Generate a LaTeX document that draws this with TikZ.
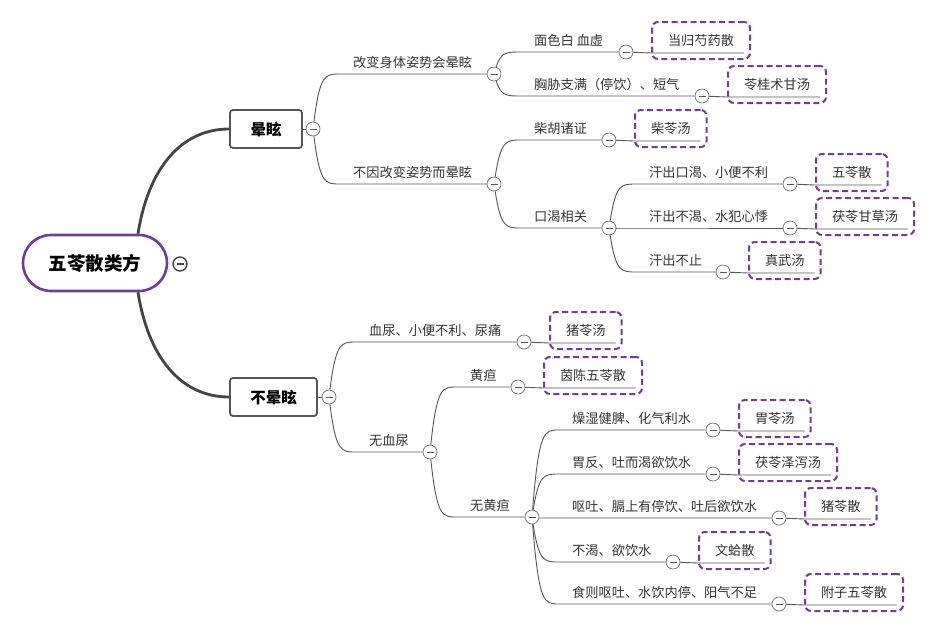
\documentclass[tikz,border=0pt]{standalone}
\usepackage{fontspec}
\setmainfont{Noto Sans CJK SC}
\usetikzlibrary{calc}
\definecolor{pur}{RGB}{112,60,150}
\definecolor{txt}{RGB}{51,51,51}
\definecolor{ln}{RGB}{85,85,85}
\definecolor{trk}{RGB}{68,68,68}
\tikzset{
 lbl/.style={inner sep=0pt, anchor=base west, font=\fontsize{13.2}{15}\selectfont, text=txt},
 tog/.style={circle, draw=ln!85, fill=white, minimum size=14pt, inner sep=0pt, line width=0.7pt,
   path picture={\draw[ln, line width=0.7pt] ([xshift=-3.5pt]path picture bounding box.center) -- ([xshift=3.5pt]path picture bounding box.center);}},
 maintog/.style={circle, draw=trk, fill=white, minimum size=14pt, inner sep=0pt, line width=1.4pt,
   path picture={\draw[trk, line width=1.4pt] ([xshift=-3.5pt]path picture bounding box.center) -- ([xshift=3.5pt]path picture bounding box.center);}},
 branch/.style={draw=ln, line width=0.9pt},
 leaf/.style={draw=pur, line width=2pt, dash pattern=on 6pt off 3.5pt, rounded corners=6pt, fill=white,
   minimum height=37pt, inner xsep=16pt, inner ysep=0pt, anchor=west, font=\fontsize{13.2}{15}\selectfont, text=txt},
 topic/.style={draw=ln, line width=1.8pt, rounded corners=3pt, fill=white, font=\bfseries\fontsize{15.5}{18}\selectfont,
   minimum height=38pt, inner xsep=0pt, text=black},
 mainnode/.style={draw=pur, line width=2.6pt, rounded corners=28pt, fill=white, minimum width=144pt, minimum height=56pt,
   font=\bfseries\fontsize{18.5}{22}\selectfont, text=black},
 trunk/.style={draw=trk, line width=2.8pt},
}
% #1 parent node, #2 id, #3 parent x, #4 y, #5 circle x, #6 label
\newcommand{\br}[6]{%
  \coordinate (#2s) at (#3+27,#4);
  \node[lbl] (#2t) at (#3+40,#4-7) {#6};
  \node[tog] (#2c) at (#5,#4) {};
  \draw[branch] (#1) .. controls (#3+7,#4) and (#3+12,#4) .. (#2s) -- (#2c);
}
% #1 branch id, #2 leaf id, #3 text
\newcommand{\lf}[3]{%
  \node[leaf] (#2) at ($(#1c)+(25,-11.5)$) {#3};
  \draw[branch] (#1c) -- ([yshift=7pt]#2.south west) -- ([xshift=-7pt,yshift=7pt]#2.south east);
}
\begin{document}
\begin{tikzpicture}[x=1pt,y=-1pt]
\useasboundingbox (0,0) rectangle (935,633);
\fill[white] (0,0) rectangle (935,633);
% main
\node[mainnode] (M) at (95,263) {五苓散类方};
\node[maintog] (Mc) at (180,264) {};
\node[topic, minimum width=72pt] (A) at (266,129) {晕眩};
\node[topic, minimum width=87pt] (B) at (273.5,397) {不晕眩};
\draw[trunk] ([xshift=43pt]M.north) .. controls (148,170) and (180,129) .. (A.west);
\draw[trunk] ([xshift=43pt]M.south) .. controls (148,356) and (180,397) .. (B.west);
\node[tog] (Ac) at (313,129) {};
\node[tog] (Bc) at (329,397) {};
\draw[branch] (A) -- (Ac);
\draw[branch] (B) -- (Bc);
% upper tree
\br{Ac}{b1}{313}{74}{494}{改变身体姿势会晕眩}
\br{b1c}{b11}{494}{52}{626}{面色白 血虚}
\lf{b11}{l11}{当归芍药散}
\br{b1c}{b12}{494}{96}{702}{胸胁支满（停饮）、短气}
\lf{b12}{l12}{苓桂术甘汤}
\br{Ac}{b2}{313}{184}{494}{不因改变姿势而晕眩}
\br{b2c}{b21}{494}{140}{609}{柴胡诸证}
\lf{b21}{l21}{柴苓汤}
\br{b2c}{b22}{494}{228}{609}{口渴相关}
\br{b22c}{b221}{609}{184}{790}{汗出口渴、小便不利}
\lf{b221}{l221}{五苓散}
\br{b22c}{b222}{609}{228}{790}{汗出不渴、水犯心悸}
\lf{b222}{l222}{茯苓甘草汤}
\br{b22c}{b223}{609}{272}{723}{汗出不止}
\lf{b223}{l223}{真武汤}
% lower tree
\br{Bc}{c1}{329}{342}{524}{血尿、小便不利、尿痛}
\lf{c1}{m1}{猪苓汤}
\br{Bc}{c2}{329}{452}{430}{无血尿}
\br{c2c}{c21}{430}{387}{518}{黄疸}
\lf{c21}{m21}{茵陈五苓散}
\br{c2c}{c22}{430}{517}{532}{无黄疸}
\br{c22c}{c221}{532}{430}{713}{燥湿健脾、化气利水}
\lf{c221}{m221}{胃苓汤}
\br{c22c}{c222}{532}{474}{713}{胃反、吐而渴欲饮水}
\lf{c222}{m222}{茯苓泽泻汤}
\br{c22c}{c223}{532}{518}{779}{呕吐、膈上有停饮、吐后欲饮水}
\lf{c223}{m223}{猪苓散}
\br{c22c}{c224}{532}{562}{673}{不渴、欲饮水}
\lf{c224}{m224}{文蛤散}
\br{c22c}{c225}{532}{604}{779}{食则呕吐、水饮内停、阳气不足}
\lf{c225}{m225}{附子五苓散}
\end{tikzpicture}
\end{document}
